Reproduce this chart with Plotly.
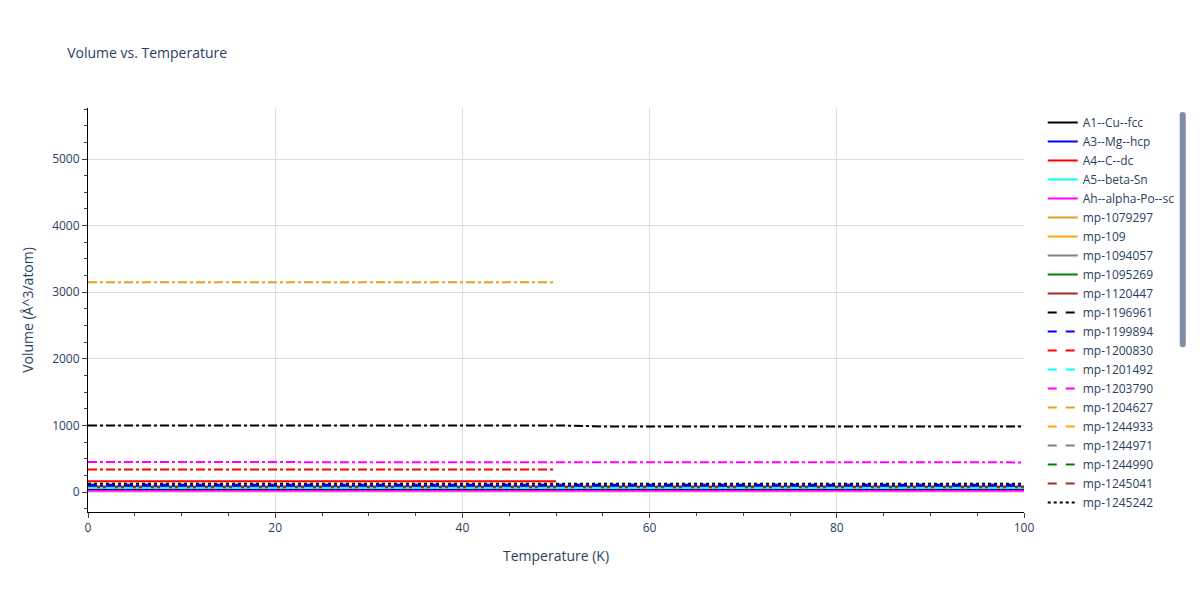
import plotly.graph_objects as go
import numpy as np

names = ["A1--Cu--fcc","A3--Mg--hcp","A4--C--dc","A5--beta-Sn","Ah--alpha-Po--sc",
         "mp-1079297","mp-109","mp-1094057","mp-1095269","mp-1120447",
         "mp-1196961","mp-1199894","mp-1200830","mp-1201492","mp-1203790",
         "mp-1204627","mp-1244933","mp-1244971","mp-1244990","mp-1245041",
         "mp-1245242","mp-16220","mp-16221","mp-1686","mp-20589","mp-2098",
         "mp-2500","mp-2508","mp-29290","mp-30","mp-31","mp-32","mp-33","mp-34",
         "mp-35","mp-36"]
vol_start = [40,70,160,60,20, 90,85,80,75,70, 110,100,95,90,85, 80,75,70,65,60,
             125,95,90,85,80,75,70,65,60,55, 1000,95,340,60,450,3150]
vol_end =   [40,70,160,60,20, 90,85,80,75,70, 110,100,95,90,85, 80,75,70,65,60,
             125,95,90,85,80,75,70,65,60,55, 985,95,340,60,445,3150]
t_max =     [100,100,50,100,100, 100,100,100,100,100, 100,100,100,100,100, 100,100,100,100,100,
             100,100,100,100,100,100,100,100,100,100, 100,100,50,100,100,50]

colors = ["black","blue","red","cyan","magenta","goldenrod","orange","gray","green","brown"]
dashes = ["solid","dash","dot","dashdot"]

fig = go.Figure()
for i, n in enumerate(names):
    t = np.linspace(0, t_max[i], 21)
    v = np.where(t < 55, vol_start[i], vol_end[i])
    fig.add_trace(go.Scatter(x=t, y=v, mode="lines", name=n,
                             line=dict(color=colors[i % 10], dash=dashes[i // 10], width=2)))

fig.update_layout(
    template="plotly_white",
    title=dict(text="Volume vs. Temperature", x=0.05, font=dict(size=14)),
    xaxis=dict(title="Temperature (K)", range=[0, 100], showline=True, linecolor="black",
               ticks="outside", minor=dict(ticks="outside", dtick=5), gridcolor="#ddd"),
    yaxis=dict(title="Volume (Å^3/atom)", range=[-300, 5766], showline=True, linecolor="black",
               ticks="outside", minor=dict(ticks="outside", dtick=250), gridcolor="#ddd",
               zeroline=False),
)
fig.write_html("out.html")
